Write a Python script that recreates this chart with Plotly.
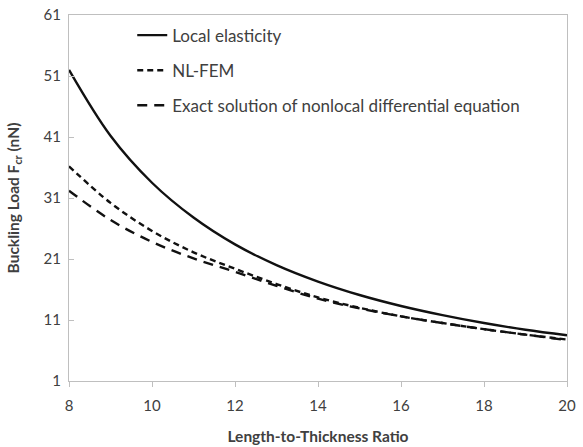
import plotly.graph_objects as go

# Length-to-thickness ratio and buckling loads (nN)
ratio = [8, 9, 10, 11, 12, 13, 14, 15, 16, 17, 18, 19, 20]
local_elasticity = [52.0, 41.2, 33.5, 27.8, 23.4, 20.0, 17.3, 15.1, 13.3, 11.8, 10.5, 9.4, 8.5]
nl_fem = [36.2, 30.2, 25.6, 22.1, 19.4, 16.9, 14.7, 13.0, 11.6, 10.5, 9.5, 8.6, 7.8]
exact_nonlocal = [32.2, 27.4, 23.8, 21.1, 18.9, 16.6, 14.5, 12.9, 11.6, 10.5, 9.5, 8.6, 7.7]

x_ticks = [8, 10, 12, 14, 16, 18, 20]
y_ticks = [1, 11, 21, 31, 41, 51, 61]

series_names = [
    "Local elasticity",
    "NL-FEM",
    "Exact solution of nonlocal differential equation",
]
series_values = [local_elasticity, nl_fem, exact_nonlocal]
series_dash = ["solid", "6px,4px", "10px,7px"]

FONT = "Lato, 'Open Sans', sans-serif"
TEXT = "#404040"
AXIS = "#bfbfbf"

fig = go.Figure()
for i, (name, vals, dash) in enumerate(zip(series_names, series_values, series_dash)):
    fig.add_trace(go.Scatter(
        x=ratio, y=vals, name=name, mode="lines",
        line=dict(color="#111111", width=2.4, dash=dash, shape="spline", smoothing=1.0),
        legendgroup=f"g{i}",
    ))

fig.update_layout(
    width=583, height=447,
    margin=dict(l=69, r=16, t=15, b=66),
    paper_bgcolor="white", plot_bgcolor="white",
    font=dict(family=FONT, size=15, color=TEXT),
    showlegend=True,
    legend=dict(
        x=0.127, y=0.993, xanchor="left", yanchor="top",
        bgcolor="rgba(0,0,0,0)", borderwidth=0,
        tracegroupgap=10, itemwidth=30,
        font=dict(family=FONT, size=17, color=TEXT),
    ),
    xaxis=dict(
        range=[8, 20], tickvals=x_ticks, ticks="outside", ticklen=5,
        tickcolor=AXIS, showline=True, linecolor=AXIS, linewidth=1.2,
        mirror=True, showgrid=False, zeroline=False, automargin=False,
        ticklabelstandoff=6,
        tickfont=dict(size=15, color=TEXT),
        title=dict(text="<b>Length-to-Thickness Ratio</b>", standoff=18,
                   font=dict(size=15.5, color=TEXT)),
    ),
    yaxis=dict(
        range=[1, 61], tickvals=y_ticks, ticks="inside", ticklen=5,
        tickcolor=AXIS, showline=True, linecolor=AXIS, linewidth=1.2,
        mirror=True, showgrid=False, zeroline=False, automargin=False,
        ticklabelstandoff=4,
        tickfont=dict(size=15, color=TEXT),
        title=dict(text="<b>Buckling Load F<sub>cr</sub> (nN)</b>", standoff=20,
                   font=dict(size=15.5, color=TEXT)),
    ),
)

fig.write_html("out.html")
